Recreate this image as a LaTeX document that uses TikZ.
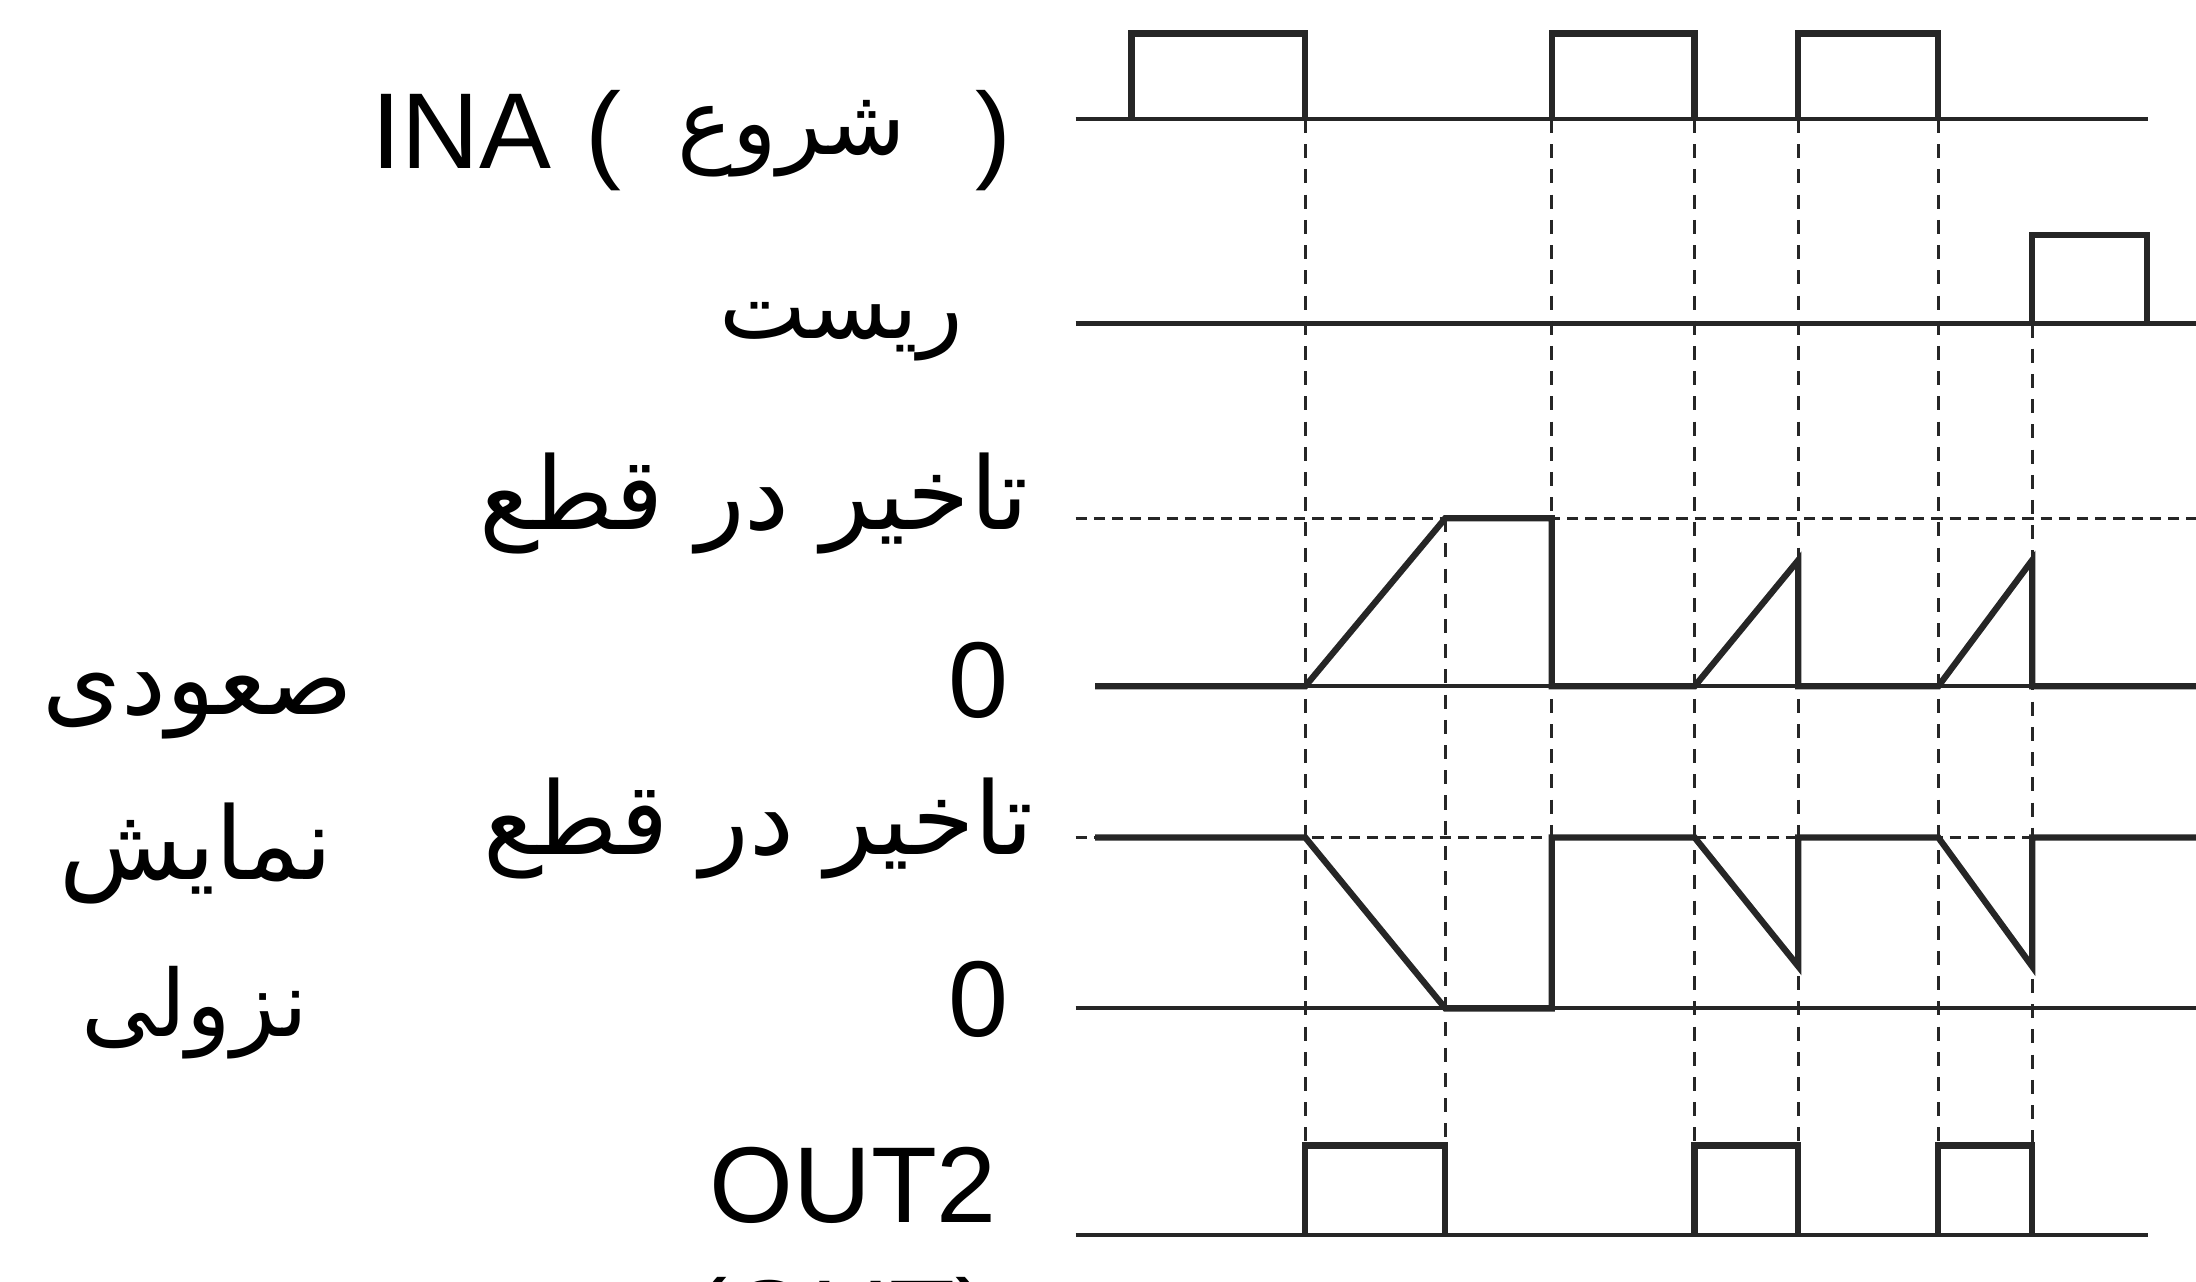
\documentclass[tikz,border=0pt]{standalone}
\usepackage{fontspec}
\setmainfont{Liberation Sans}
\newfontfamily\arabicfont[Script=Arabic]{DejaVu Sans}
\TeXXeTstate=1
\tikzset{
  axisline/.style={line width=3pt, black!85},
  wave/.style={line width=4.5pt, black!85, line join=miter},
  guide/.style={line width=2pt, black!85, dash pattern=on 10pt off 8pt},
  hguide/.style={line width=2.4pt, black!85, dash pattern=on 8pt off 5pt},
  lat/.style={inner sep=0pt, font=\fontsize{77}{80}\selectfont},
  ara/.style={inner sep=0pt, font=\arabicfont\fontsize{72}{76}\selectfont},
  aras/.style={inner sep=0pt, font=\arabicfont\fontsize{66}{70}\selectfont},
}
\begin{document}
\begin{tikzpicture}[x=1pt,y=-1pt]
\useasboundingbox (0,0) rectangle (1568,915);
\clip (0,0) rectangle (1568,915);
% labels
\node[lat, anchor=base west] (ina) at (265,120) {INA};
\node[lat, anchor=base west] (lp) at (418,120) {(};
\node[aras, anchor=base east] (start) at (647,110) {\beginR شروع\endR};
\node[lat, anchor=base west] (rp) at (696,120) {)};
\node[aras, anchor=base east] (reset) at (688,242) {\beginR ریست\endR};
\node[ara, anchor=base east] (delay1) at (735,378) {\beginR تاخیر در قطع\endR};
\node[lat, anchor=base east] (zero1) at (720,512) {0};
\node[ara, anchor=base east] (delay2) at (738,610) {\beginR تاخیر در قطع\endR};
\node[lat, anchor=base east] (zero2) at (720,740) {0};
\node[lat, anchor=base east] (out2) at (712,873) {OUT2};
\node[lat, anchor=base east] (out) at (708,968) {(OUT)};
\node[ara, anchor=base east] (asc) at (252,510) {\beginR صعودی\endR};
\node[ara, anchor=base east] (show) at (238,628) {\beginR نمایش\endR};
\node[aras, anchor=base east] (desc) at (220,740) {\beginR نزولی\endR};
% dashed guides
\draw[hguide] (768,370) -- (1568,370);
\draw[hguide] (768,598) -- (1568,598);
\draw[guide] (932,85) -- (932,882);
\draw[guide] (1032,370) -- (1032,882);
\draw[guide] (1108,85) -- (1108,720);
\draw[guide] (1210,85) -- (1210,882);
\draw[guide] (1284,85) -- (1284,882);
\draw[guide] (1384,85) -- (1384,882);
\draw[guide] (1451,231) -- (1451,882);
% INA
\draw[axisline] (768,85) -- (1534,85);
\draw[wave] (808,85) -- (808,24) -- (932,24) -- (932,85);
\draw[wave] (1108,85) -- (1108,24) -- (1210,24) -- (1210,85);
\draw[wave] (1284,85) -- (1284,24) -- (1384,24) -- (1384,85);
% reset
\draw[axisline] (768,231) -- (1568,231);
\draw[wave] (1451,231) -- (1451,168) -- (1533,168) -- (1533,231);
% ramp up
\draw[axisline] (782,490) -- (1568,490);
\draw[wave] (782,490) -- (932,490) -- (1032,370) -- (1108,370) -- (1108,490) -- (1210,490)
  -- (1284,400) -- (1284,490) -- (1384,490) -- (1451,400) -- (1451,490) -- (1568,490);
% ramp down
\draw[axisline] (768,720) -- (1568,720);
\draw[wave] (782,598) -- (932,598) -- (1032,720) -- (1108,720) -- (1108,598) -- (1210,598)
  -- (1284,690) -- (1284,598) -- (1384,598) -- (1451,690) -- (1451,598) -- (1568,598);
% OUT2
\draw[axisline] (768,882) -- (1534,882);
\draw[wave] (932,882) -- (932,818) -- (1032,818) -- (1032,882);
\draw[wave] (1210,882) -- (1210,818) -- (1284,818) -- (1284,882);
\draw[wave] (1384,882) -- (1384,818) -- (1451,818) -- (1451,882);
\end{tikzpicture}
\end{document}
